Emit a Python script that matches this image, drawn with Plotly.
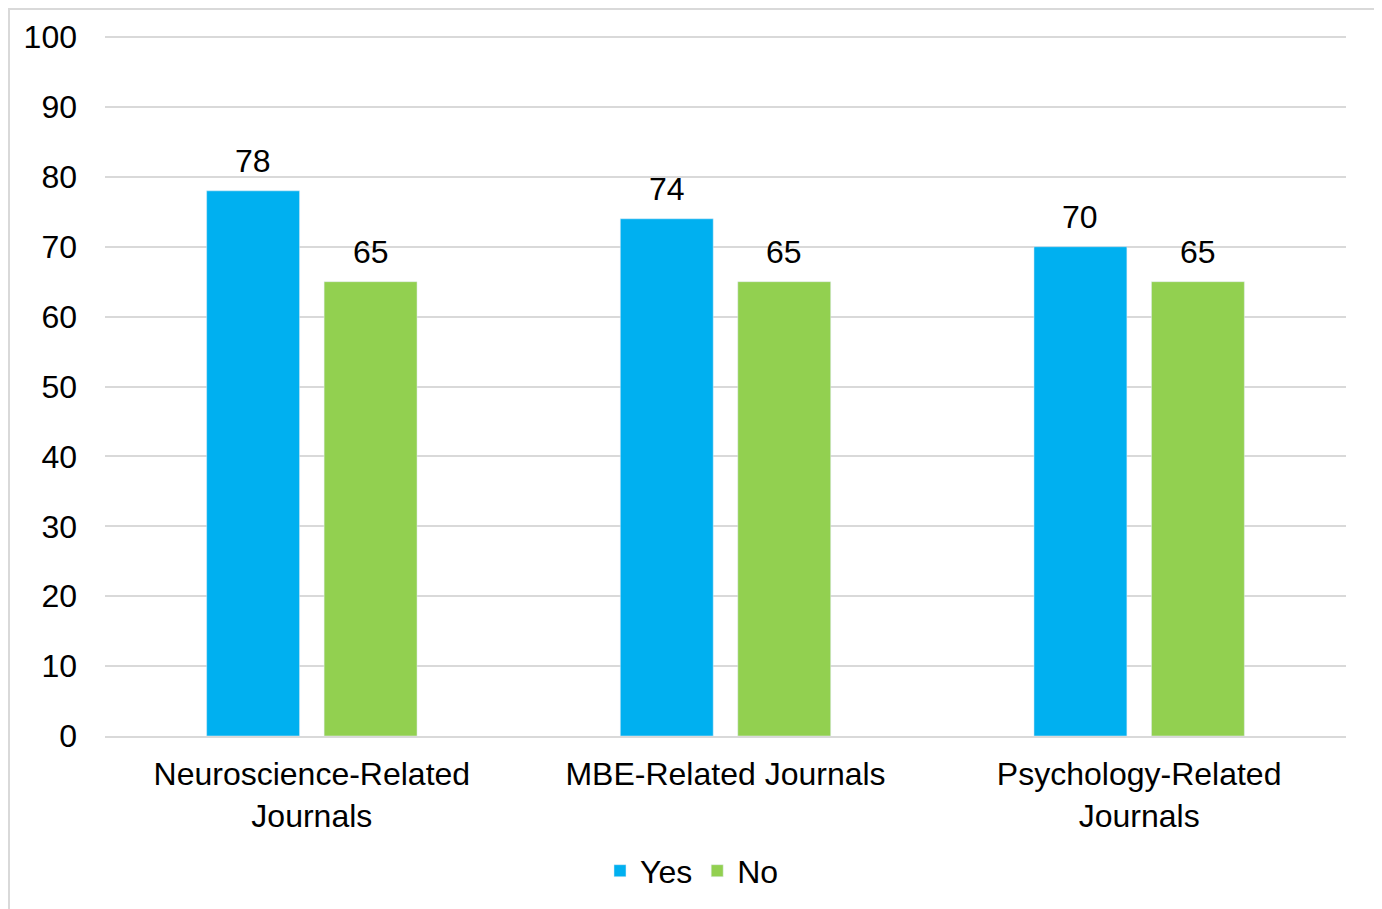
import plotly.graph_objects as go

categories = ["Neuroscience-Related<br>Journals", "MBE-Related Journals", "Psychology-Related<br>Journals"]
yes_values = [78, 74, 70]
no_values = [65, 65, 65]
y_ticks = [0, 10, 20, 30, 40, 50, 60, 70, 80, 90, 100]

FONT = "Liberation Sans, Arial, sans-serif"
W, H = 1374, 901
L, R, T, B = 97, 36, 28, 172
PW, PH = W - L - R, H - T - B
SLOT = 117.5  # px between grouped bar centres

fig = go.Figure()
fig.add_trace(go.Bar(name="Yes", x=categories, y=yes_values, marker_color="#00B0F0"))
fig.add_trace(go.Bar(name="No", x=categories, y=no_values, marker_color="#92D050"))

for vals, shift in ((yes_values, -SLOT / 2), (no_values, SLOT / 2)):
    for c, v in zip(categories, vals):
        fig.add_annotation(x=c, y=v, text=str(v), showarrow=False, xshift=shift, yshift=30,
                           yanchor="middle", font=dict(size=32, color="black", family=FONT))

fig.update_layout(
    width=W, height=H,
    margin=dict(l=L, r=R, t=T, b=B),
    paper_bgcolor="white", plot_bgcolor="white",
    font=dict(family=FONT, size=32, color="black"),
    barmode="group", bargap=0.432, bargroupgap=0.209,
    legend=dict(orientation="h", x=0.473, xanchor="center", y=-0.191, yanchor="middle",
                font=dict(size=32), itemwidth=30, tracegroupgap=0),
    showlegend=True,
)
fig.update_yaxes(range=[0, 100.15], tickvals=y_ticks, showgrid=True, gridcolor="#d9d9d9", gridwidth=2,
                 zeroline=False, showline=False, ticks="", ticklabelstandoff=27,
                 tickfont=dict(size=32))
fig.update_xaxes(showline=True, linecolor="#d9d9d9", linewidth=2, ticks="",
                 tickfont=dict(size=32), ticklabelstandoff=9)
fig.add_shape(type="rect", xref="paper", yref="paper",
              x0=(1 - L) / PW, x1=(1368 - L) / PW,
              y0=1 - (910 - T) / PH, y1=1 - (1 - T) / PH,
              line=dict(color="#d9d9d9", width=2), fillcolor="rgba(0,0,0,0)", layer="below")

fig.write_html("out.html")
